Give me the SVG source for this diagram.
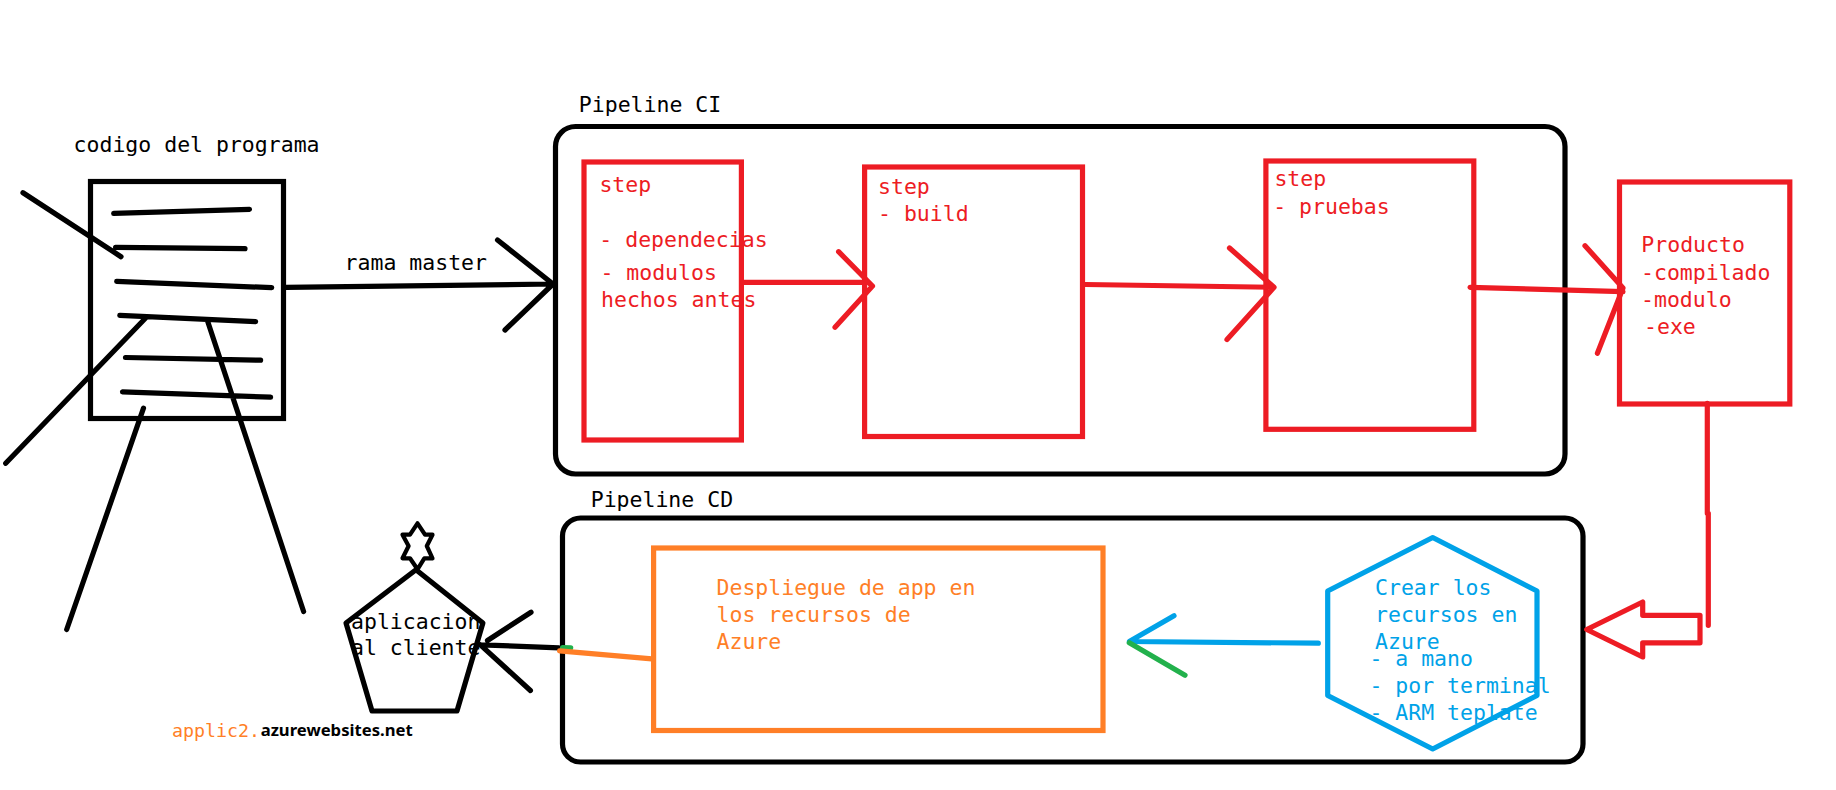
<svg xmlns="http://www.w3.org/2000/svg" width="1836" height="790" viewBox="0 0 1836 790">
<style>
text{font-family:"DejaVu Sans Mono","Liberation Mono",monospace;font-size:21.5px;white-space:pre}
.k{fill:#000}.r{fill:#ed1c24}.o{fill:#ff7f27}.b{fill:#00a2e8}
.box,.ln{fill:none;stroke-width:5.2;stroke-linecap:round;stroke-linejoin:round}
.sq{fill:none;stroke-width:5.2;stroke-linejoin:miter}
.sk{stroke:#000}.sr{stroke:#ed1c24}.so{stroke:#ff7f27}.sb{stroke:#00a2e8}.sg{stroke:#22b14c}
</style>
<rect width="1836" height="790" fill="#fff"/>
<g id="pipeline-ci">
<rect class="box sk" x="555.5" y="126.5" width="1009.5" height="347.5" rx="20"/>
<text class="k" x="578.8" y="112">Pipeline CI</text>
</g>
<g id="pipeline-cd">
<rect class="box sk" x="562.5" y="518" width="1020.5" height="244" rx="18"/>
<text class="k" x="590.7" y="507">Pipeline CD</text>
</g>
<g id="codigo">
<rect class="sq sk" x="90.5" y="181.5" width="193" height="237"/>
<path class="ln sk" d="M113.7 213.3L249.5 209.3M115.6 247.3L245 248.7M116.7 281.3L271.7 287.7M119.8 315.3L255.6 321.7M125.5 357.5L260.6 360.2M122.5 391.8L270.6 397.2M23 192.7L121 256.7M145.4 318.3L5.7 463.3M143.5 408.2L66.7 629.5M207.8 321.7L303.6 611.5"/>
<text class="k" x="73.6" y="152.2">codigo del programa</text>
</g>
<g id="step-1">
<rect class="sq sr" x="584" y="162" width="157.4" height="278"/>
<text class="r" x="599.4" y="192.2">step</text>
<text class="r" x="599.3" y="246.5">- dependecias</text>
<text class="r" x="600.4" y="279.9">- modulos</text>
<text class="r" x="601" y="306.5">hechos antes</text>
</g>
<g id="step-2">
<rect class="sq sr" x="864.6" y="167" width="217.9" height="269.5"/>
<text class="r" x="878" y="193.5">step</text>
<text class="r" x="878" y="220.5">- build</text>
</g>
<g id="step-3">
<rect class="sq sr" x="1265.9" y="161" width="207.9" height="268.3"/>
<text class="r" x="1274.4" y="186.2">step</text>
<text class="r" x="1273.2" y="213.5">- pruebas</text>
</g>
<g id="producto">
<rect class="sq sr" x="1619.5" y="182" width="170.3" height="222"/>
<text class="r" x="1641.3" y="252.2">Producto</text>
<text class="r" x="1641" y="279.5">-compilado</text>
<text class="r" x="1641" y="306.5">-modulo</text>
<text class="r" x="1644" y="334.2">-exe</text>
</g>
<g id="crear-recursos">
<polygon class="box sb" points="1432.7,537.5 1537,591 1537,695.5 1432.7,749 1327.7,695.5 1327.7,591"/>
<text class="b" x="1375" y="594.5">Crear los</text>
<text class="b" x="1375" y="621.9">recursos en</text>
<text class="b" x="1375" y="648.5">Azure</text>
<text class="b" x="1369.4" y="665.9">- a mano</text>
<text class="b" x="1369.4" y="692.9">- por terminal</text>
<text class="b" x="1369.4" y="719.9">- ARM teplate</text>
</g>
<g id="despliegue">
<rect class="sq so" x="653.6" y="548" width="449.4" height="182.5"/>
<text class="o" x="716.5" y="594.5">Despliegue de app en</text>
<text class="o" x="716.5" y="621.9">los recursos de</text>
<text class="o" x="716.5" y="648.5">Azure</text>
</g>
<g id="aplicacion">
<polygon class="box sk" points="416,569.8 482.9,623 457,711 372,711 346,623"/>
<polygon fill="none" stroke="#000" stroke-width="4.2" stroke-linejoin="round" points="417.5,523.3 425,534.7 432.5,534.7 426.8,546 432.5,558.3 424.3,558.3 417.5,569.3 410,558.3 402.5,558.3 408.6,546 402.5,534.7 410,534.7"/>
<text class="k" x="351" y="628.5">aplicacion</text>
<text class="k" x="351" y="655.2">al cliente</text>
</g>
<g id="url">
<text class="o" style="font-size:18.3px" x="172" y="736.5">applic2.</text>
<text class="k" style="font-family:'Noto Sans','Open Sans',sans-serif;font-size:16.5px;font-weight:700" x="260.7" y="736" textLength="152" lengthAdjust="spacingAndGlyphs">azurewebsites.net</text>
</g>
<g id="connectors">
<path class="ln sk" d="M286 287.3L553 284M497.5 240L553 284L505 330"/>
<text class="k" x="344.6" y="269.9">rama master</text>
<path class="ln sr" d="M743 282.3L868 282.3L872.5 286M838.6 251.7L872.5 286L835 327.3"/>
<path class="ln sr" d="M1085.5 284.5L1274 287.3M1229.5 248L1274 287.3L1227 339.6"/>
<path class="ln sr" d="M1470 287.3L1623 291.7M1585 245.7L1623 288L1597.4 353.3"/>
<path class="ln sr" d="M1707.3 403.3L1707.3 513.3L1708.3 513.3L1708.3 625.3"/>
<polygon class="box sr" points="1586.7,629.5 1642.7,602 1642.7,615.3 1700,615.3 1700,642.8 1642.7,642.8 1642.7,657"/>
<path class="ln sb" d="M1318.3 643.2L1129.3 641.5L1174 615.8"/>
<path class="ln sg" d="M1129.3 642.8L1185 675.2"/>
<path class="ln sk" d="M559 647.8L480.4 644.8M531 612.2L487.5 640.5M480.4 644.8L530.4 690.5"/>
<path class="ln sg" d="M562.5 647.5L570.7 647.8"/>
<path class="ln so" d="M559.6 650.8L651.8 658.8"/>
</g>
</svg>
